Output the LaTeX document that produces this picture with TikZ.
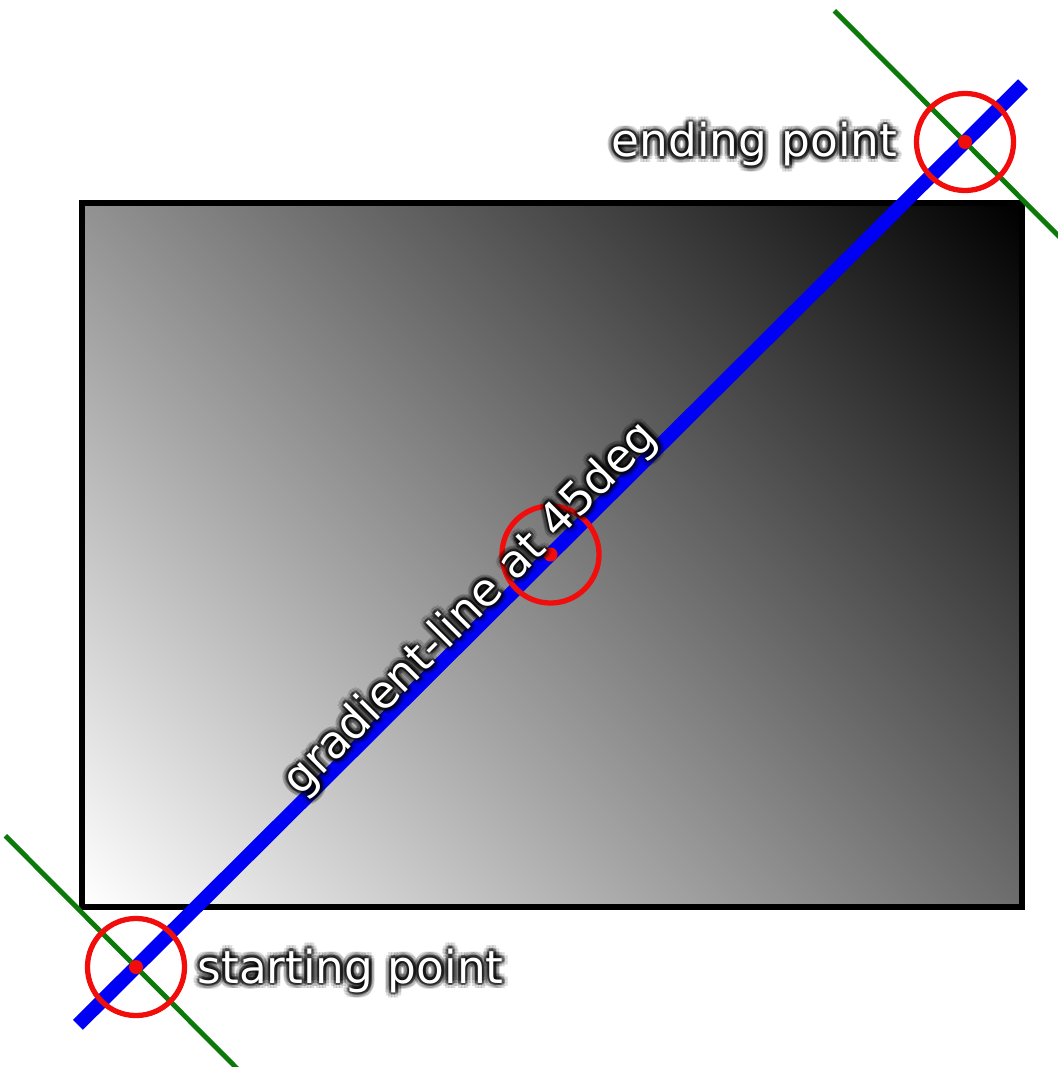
\documentclass[tikz,border=0pt]{standalone}
\usepackage{fontspec}
\newfontfamily\labelfont{DejaVu Sans}
\usetikzlibrary{calc}
\definecolor{Ring}{HTML}{F20D0D}
\definecolor{Beam}{HTML}{0000F5}
\definecolor{Normal}{HTML}{0B7A0B}
% white at the starting point, black at the ending point
\pgfdeclarehorizontalshading{grayramp}{100bp}{color(0bp)=(white); color(19.1bp)=(white); color(80.9bp)=(black); color(100bp)=(black)}

\newcommand\glowlabel[4]{%
  \foreach \r/\o in {0.8pt/0.30,1.7pt/0.14}
    \foreach \a in {0,30,...,330}
      \node[labeltext, text=black, text opacity=\o, #3] at ($(#2)+(\a:\r)$) {#4};
  \node[labeltext, #3] (#1) at (#2) {#4};}

\begin{document}
\begin{tikzpicture}[x=0.01cm, y=-0.01cm,
    labeltext/.style={font=\labelfont\fontsize{12.9}{15}\selectfont, text=white, inner sep=0pt},
    ring/.style={circle, draw=Ring, line width=1.5pt, minimum size=0.97cm, inner sep=0pt},
    spot/.style={circle, fill=Ring, minimum size=0.14cm, inner sep=0pt},
    normal/.style={draw=Normal, line width=1.4pt},
    beam/.style={draw=Beam, line width=4pt}]
  \useasboundingbox (0,0) rectangle (1058,1067);
  \coordinate (start) at (136,967);
  \coordinate (stop) at (965,142);
  \coordinate (mid) at (552,555);
  % box with the 45deg ramp
  \begin{scope}
    \clip (82,203) rectangle (1022,907);
    \shade[shading=grayramp, shading angle=45] ($(mid)+(-470,-470)$) rectangle ($(mid)+(470,470)$);
  \end{scope}
  \draw[line width=1.7pt] (82,203) rectangle (1022,907);
  % gradient line and the two normals
  \draw[beam] ($(start)!-0.07!(stop)$) -- ($(stop)!-0.07!(start)$);
  \draw[normal] ($(start)!1.85cm!90:(stop)$) -- ($(start)!1.85cm!-90:(stop)$);
  \draw[normal] ($(stop)!1.85cm!90:(start)$) -- ($(stop)!1.85cm!-90:(start)$);
  % markers
  \node[ring] (startring) at (start) {};
  \node[ring] (midring) at ($(start)!0.5!(stop)$) {};
  \node[ring] (stopring) at (stop) {};
  \node[spot] (startspot) at (start) {};
  \node[spot] (midspot) at (midring) {};
  \node[spot] (stopspot) at (stop) {};
  % labels
  \coordinate (endtag) at (898,157);
  \coordinate (starttag) at (197,983);
  \coordinate (linetag) at (480,618);
  \glowlabel{endlabel}{endtag}{anchor=base east}{ending point}
  \glowlabel{startlabel}{starttag}{anchor=base west}{starting point}
  \glowlabel{linelabel}{linetag}{anchor=base, rotate=45}{gradient-line at 45deg}
\end{tikzpicture}
\end{document}
